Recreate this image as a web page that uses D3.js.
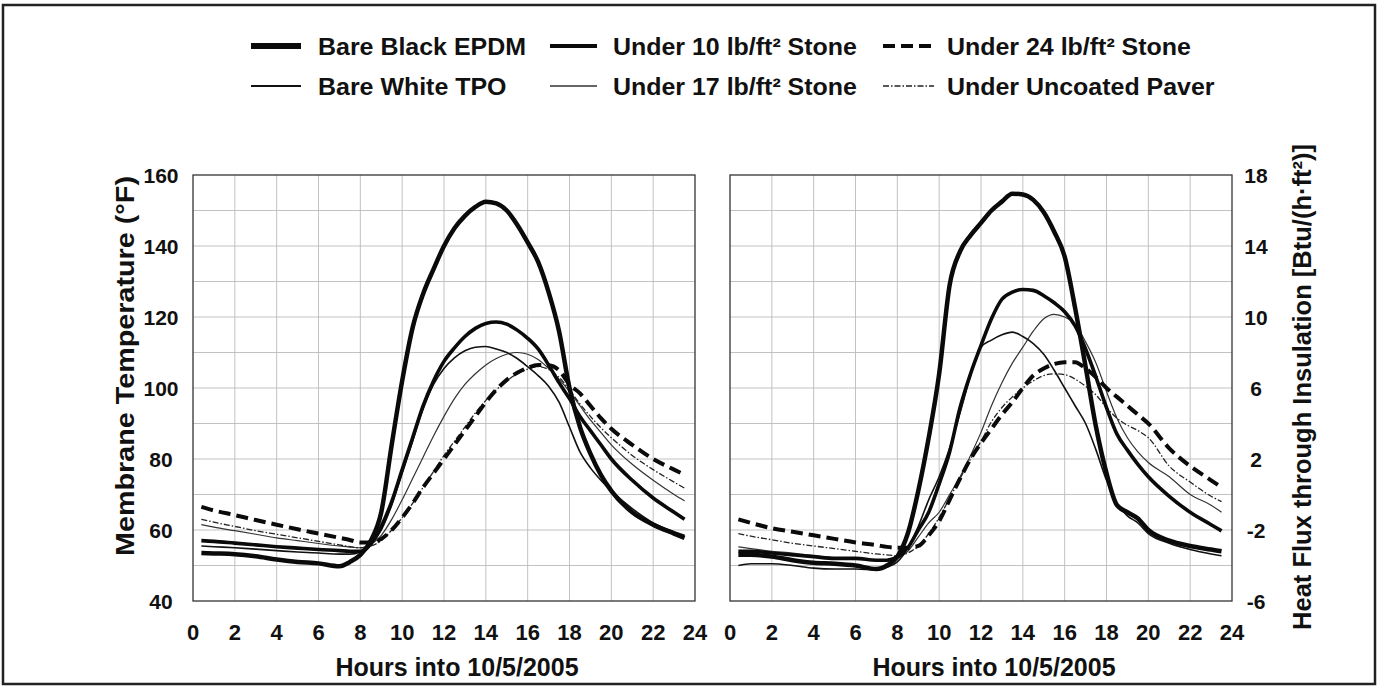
<!DOCTYPE html>
<html>
<head>
<meta charset="utf-8">
<script src="https://cdn.jsdelivr.net/npm/d3@7/dist/d3.min.js"></script>
<style>
  body { margin: 0; background: #fff; }
  text { font-family: "Liberation Sans", Arial, sans-serif; font-weight: bold; fill: #111; }
</style>
</head>
<body>
<div id="chartDiv"></div>
<script>
var width = 1387;
var height = 686;

var hours = [0.4, 1, 2, 3, 4, 5, 6, 7, 7.5, 8, 8.5, 9, 9.5, 10, 10.5, 11, 11.5, 12, 12.5, 13, 13.5, 14, 14.5,
             15, 15.5, 16, 16.5, 17, 17.5, 18, 18.5, 19, 19.5, 20, 21, 22, 23, 23.5];

var seriesNames = ["Bare Black EPDM", "Under 10 lb/ft² Stone", "Under 24 lb/ft² Stone",
                   "Bare White TPO", "Under 17 lb/ft² Stone", "Under Uncoated Paver"];

// membrane temperature (°F)
var tempEPDM    = [53.5, 53.4, 53.2, 52.6, 51.7, 51.0, 50.6, 49.8, 51.0, 53.0, 57, 65, 84, 102, 117, 126.5, 133.5, 140, 145, 148.5, 151, 152.5, 152,
                   150, 146, 141, 135.5, 127, 116, 100, 89, 81.5, 75.5, 71, 65, 61.5, 59, 57.8];
var tempStone10 = [57, 56.8, 56.3, 55.8, 55.3, 54.9, 54.5, 54.2, 54, 54, 56, 61, 68, 77, 86, 95, 102, 107.5, 111.3, 114.5, 116.8, 118.2, 118.6,
                   118, 116.3, 114, 111, 106.5, 101.5, 97, 92, 88, 84, 80, 74, 69, 65, 63];
var tempStone24 = [66.5, 65.5, 64.2, 62.8, 61.5, 60.2, 59, 57.8, 57.2, 56.5, 56.5, 57.5, 60, 63.5, 67.5, 72, 76, 80, 84, 88, 92, 96, 99.5,
                   102.3, 104.3, 105.7, 106.5, 106.4, 105, 101, 98.5, 95, 91.5, 88.5, 84, 80, 77, 75.6];
var tempTPO     = [55.5, 55.3, 55, 54.6, 54.2, 53.8, 53.5, 53.2, 53.2, 53.8, 56, 60, 67, 76, 85, 94, 101, 105.5, 108.5, 110.5, 111.5, 111.7, 111,
                   110, 108.3, 106, 103.5, 100.5, 96, 89, 82, 77.5, 74, 71, 66, 62, 59.5, 58.5];
var tempStone17 = [61.5, 60.8, 59.8, 58.8, 57.8, 57, 56.2, 55.5, 55.2, 55, 56, 58.5, 63, 68.5, 74.5, 80.5, 86.5, 92, 97, 101, 104, 106.5, 108.3,
                   109.5, 110, 109.5, 108, 105.5, 102.5, 99, 95, 91, 87.5, 84, 78.5, 74, 70, 68.2];
var tempPaver   = [63, 62.2, 61, 59.8, 58.8, 57.8, 56.8, 55.8, 55.3, 55, 55.5, 57, 60, 63.5, 67.5, 72, 76.5, 81, 85, 89, 93, 96.5, 99.5,
                   102, 104, 105.3, 106, 105.2, 103, 99.5, 95.5, 92, 88.8, 86, 81, 77, 73.5, 71.8];

// heat flux through insulation (Btu/(h·ft²))
var fluxEPDM    = [-3.4, -3.4, -3.5, -3.7, -3.85, -3.9, -4.0, -4.2, -4.0, -3.5, -2.2, 0.2, 3.2, 6.8, 11.8, 13.7, 14.6, 15.3, 16.0, 16.5, 16.95, 16.9, 16.6,
                   15.9, 14.8, 13.4, 10.5, 7.2, 3.8, 1.2, -0.6, -1.0, -1.35, -2.0, -2.6, -2.9, -3.1, -3.2];
var fluxStone10 = [-3.2, -3.2, -3.3, -3.4, -3.5, -3.6, -3.6, -3.7, -3.7, -3.5, -3.0, -2.0, -1.0, 0.6, 2.4, 4.9, 6.8, 8.4, 9.9, 11.0, 11.4, 11.55, 11.5,
                   11.2, 10.8, 10.3, 9.5, 8.2, 6.6, 4.9, 3.4, 2.5, 1.7, 1.0, -0.1, -1.0, -1.7, -2.05];
var fluxStone24 = [-1.4, -1.6, -1.9, -2.1, -2.3, -2.5, -2.7, -2.85, -2.95, -3.0, -3.0, -2.9, -2.3, -1.5, -0.3, 0.9, 2.0, 2.9, 3.7, 4.5, 5.2, 6.0, 6.7,
                   7.1, 7.35, 7.45, 7.45, 7.1, 6.6, 6.0, 5.5, 5.0, 4.5, 4.0, 2.6, 1.6, 0.8, 0.4];
var fluxTPO     = [-4.0, -3.9, -3.9, -4.0, -4.15, -4.2, -4.2, -4.25, -4.1, -3.8, -3.0, -1.8, -0.3, 1.0, 2.6, 4.6, 6.7, 8.3, 8.7, 9.0, 9.15, 8.9, 8.5,
                   7.9, 7.0, 6.0, 5.0, 4.0, 2.5, 0.8, -0.5, -1.2, -1.6, -2.2, -2.75, -3.1, -3.35, -3.45];
var fluxStone17 = [-2.95, -3.05, -3.2, -3.3, -3.45, -3.55, -3.6, -3.7, -3.7, -3.6, -3.2, -2.4, -1.6, -1.0, 0.0, 1.0, 2.2, 3.5, 5.0, 6.3, 7.4, 8.3, 9.2,
                   9.9, 10.15, 10.0, 9.6, 8.6, 7.4, 5.8, 4.3, 3.2, 2.4, 1.8, 1.0, 0.0, -0.6, -1.0];
var fluxPaver   = [-2.2, -2.35, -2.55, -2.75, -2.9, -3.05, -3.2, -3.35, -3.4, -3.45, -3.3, -2.9, -2.2, -1.3, -0.2, 0.9, 2.0, 3.0, 4.1, 4.9, 5.5, 6.0, 6.4,
                   6.7, 6.8, 6.75, 6.5, 6.1, 5.6, 4.9, 4.3, 3.9, 3.6, 3.2, 1.6, 0.7, -0.1, -0.4];

var tempTicks = [40, 60, 80, 100, 120, 140, 160];
var fluxTicks = [-6, -2, 2, 6, 10, 14, 18];
var hourTicks = [0, 2, 4, 6, 8, 10, 12, 14, 16, 18, 20, 22, 24];

// line looks, same order as seriesNames
var styles = [
  {w: 4.5, dash: null,          c: "#0a0a0a", lw: 6},
  {w: 3.6, dash: null,          c: "#0a0a0a", lw: 4},
  {w: 4,   dash: "12,6",        c: "#0a0a0a", lw: 4},
  {w: 1.6, dash: null,          c: "#111",    lw: 1.8},
  {w: 1.2, dash: null,          c: "#333",    lw: 1.3},
  {w: 1.3, dash: "6,2,1.5,2",   c: "#222",    lw: 1.3}
];

var svg = d3.select("#chartDiv")
    .append("svg")
    .attr("width", width)
    .attr("height", height);

svg.append("rect")
    .attr("width", width).attr("height", height)
    .attr("fill", "#fff");

// outer frame
svg.append("rect")
    .attr("x", 3).attr("y", 5)
    .attr("width", 1372).attr("height", 679)
    .attr("fill", "none")
    .attr("stroke", "#222")
    .attr("stroke-width", 2.5);

const panel = (x0, x1, yDomain, yStep, data) => {
    var x = d3.scaleLinear().domain([0, 24]).range([x0, x1]);
    var y = d3.scaleLinear().domain(yDomain).range([601, 175]);
    var g = svg.append("g");

    // grid
    g.append("g").selectAll("line")
        .data(d3.range(2, 24, 2))
        .join("line")
        .attr("x1", d => x(d)).attr("x2", d => x(d))
        .attr("y1", y.range()[0]).attr("y2", y.range()[1])
        .attr("stroke", "#bbb").attr("stroke-width", 0.9);
    g.append("g").selectAll("line")
        .data(d3.range(yDomain[0] + yStep, yDomain[1], yStep))
        .join("line")
        .attr("x1", x0).attr("x2", x1)
        .attr("y1", d => y(d)).attr("y2", d => y(d))
        .attr("stroke", "#bbb").attr("stroke-width", 0.9);

    g.append("rect")
        .attr("x", x0).attr("y", y.range()[1])
        .attr("width", x1 - x0).attr("height", y.range()[0] - y.range()[1])
        .attr("fill", "none").attr("stroke", "#333").attr("stroke-width", 1.3);

    var line = d3.line()
        .x((d, i) => x(hours[i]))
        .y(d => y(d))
        .curve(d3.curveMonotoneX);

    // thin ones first, heavy ones on top
    var order = [4, 5, 3, 2, 1, 0];
    g.append("g").selectAll("path")
        .data(order)
        .join("path")
        .attr("d", k => line(data[k]))
        .attr("fill", "none")
        .attr("stroke", k => styles[k].c)
        .attr("stroke-width", k => styles[k].w)
        .attr("stroke-dasharray", k => styles[k].dash)
        .attr("stroke-linejoin", "round");

    // hour labels
    g.append("g").selectAll("text")
        .data(hourTicks)
        .join("text")
        .attr("x", d => x(d))
        .attr("y", 640)
        .attr("text-anchor", "middle")
        .style("font-size", "22px")
        .text(d => d);

    g.append("text")
        .attr("x", (x0 + x1) / 2 + 13)
        .attr("y", 676)
        .attr("text-anchor", "middle")
        .style("font-size", "25px")
        .text("Hours into 10/5/2005");

    return {x, y, g};
};

var left = panel(193, 695, [40, 160], 10,
    [tempEPDM, tempStone10, tempStone24, tempTPO, tempStone17, tempPaver]);
var right = panel(730, 1232, [-6, 18], 2,
    [fluxEPDM, fluxStone10, fluxStone24, fluxTPO, fluxStone17, fluxPaver]);

left.g.append("g").selectAll("text")
    .data(tempTicks)
    .join("text")
    .attr("x", 161)
    .attr("y", d => left.y(d) + 7.5)
    .attr("text-anchor", "middle")
    .style("font-size", "21px")
    .text(d => d);

right.g.append("g").selectAll("text")
    .data(fluxTicks)
    .join("text")
    .attr("x", 1256)
    .attr("y", d => right.y(d) + 7.5)
    .attr("text-anchor", "middle")
    .style("font-size", "21px")
    .text(d => d);

svg.append("text")
    .attr("transform", "translate(134,366) rotate(-90)")
    .attr("text-anchor", "middle")
    .attr("textLength", 380)
    .attr("lengthAdjust", "spacingAndGlyphs")
    .style("font-size", "25px")
    .text("Membrane Temperature (°F)");

svg.append("text")
    .attr("transform", "translate(1311,387) rotate(-90)")
    .attr("text-anchor", "middle")
    .style("font-size", "25.5px")
    .text("Heat Flux through Insulation [Btu/(h·ft²)]");

// legend: two rows of three
var legendLineX = [[251, 301], [550, 597], [883, 934]];
var legendTextX = [318, 613, 947];
var legend = svg.append("g");
seriesNames.forEach((name, i) => {
    var row = Math.floor(i / 3), col = i % 3;
    var ly = row === 0 ? 46 : 86;
    var s = styles[i];
    legend.append("line")
        .attr("x1", legendLineX[col][0]).attr("x2", legendLineX[col][1])
        .attr("y1", ly).attr("y2", ly)
        .attr("stroke", s.c)
        .attr("stroke-width", s.lw)
        .attr("stroke-dasharray", s.dash);
    legend.append("text")
        .attr("transform", `translate(${legendTextX[col]},${ly + 9}) scale(1.04,1)`)
        .style("font-size", "24px")
        .text(name);
});
</script>
</body>
</html>
